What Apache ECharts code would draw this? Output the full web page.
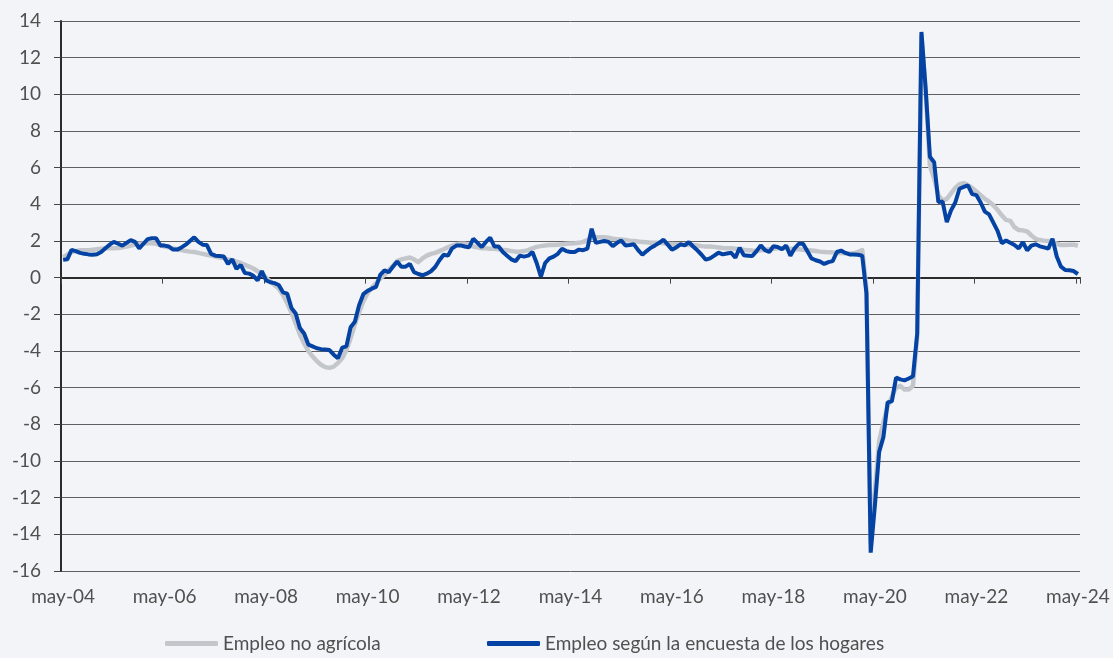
<!DOCTYPE html>
<html>
<head>
<meta charset="utf-8">
<script src="https://cdn.jsdelivr.net/npm/echarts@6/dist/echarts.min.js"></script>
<style>
  html, body { margin: 0; padding: 0; background: #f3f4f7; }
  #chart { width: 1113px; height: 658px; }
</style>
</head>
<body>
<div id="chart"></div>
<script>
// Months from may-04 to may-24 (Spanish abbreviations, one per category)
const monthNames = ['ene', 'feb', 'mar', 'abr', 'may', 'jun', 'jul', 'ago', 'sep', 'oct', 'nov', 'dic'];
const months = [];
for (let k = 0; k <= 240; k++) {
	const m = (4 + k) % 12;
	const yr = 4 + Math.floor((4 + k) / 12);
	months.push(monthNames[m] + '-' + String(yr).padStart(2, '0'));
}

// Tick labels shown on the x axis (every 24 months)
const xTickLabels = ['may-04', 'may-06', 'may-08', 'may-10', 'may-12', 'may-14', 'may-16', 'may-18', 'may-20', 'may-22', 'may-24'];

// Empleo no agrícola (% a/a), 12 values per row from may-04
const nonFarm = [
	1.1, 1.25, 1.4, 1.45, 1.5, 1.5, 1.5, 1.52, 1.55, 1.58, 1.6, 1.6,
	1.6, 1.62, 1.65, 1.7, 1.75, 1.8, 1.85, 1.87, 1.88, 1.88, 1.85, 1.78,
	1.7, 1.65, 1.6, 1.55, 1.5, 1.45, 1.42, 1.4, 1.35, 1.3, 1.25, 1.2,
	1.15, 1.1, 1.05, 1.0, 0.95, 0.88, 0.8, 0.7, 0.6, 0.5, 0.35, 0.2,
	0.0, -0.2, -0.4, -0.6, -0.95, -1.4, -1.9, -2.5, -3.1, -3.6, -4.0, -4.3,
	-4.55, -4.75, -4.88, -4.92, -4.85, -4.65, -4.4, -3.95, -3.3, -2.55, -1.9, -1.3,
	-0.85, -0.55, -0.3, -0.05, 0.15, 0.4, 0.65, 0.9, 1.0, 1.05, 1.1, 1.0,
	0.85, 1.05, 1.2, 1.3, 1.35, 1.45, 1.55, 1.65, 1.75, 1.82, 1.85, 1.85,
	1.8, 1.7, 1.65, 1.6, 1.6, 1.58, 1.58, 1.55, 1.52, 1.5, 1.45, 1.42,
	1.42, 1.45, 1.5, 1.6, 1.68, 1.72, 1.75, 1.78, 1.78, 1.8, 1.82, 1.85,
	1.87, 1.88, 1.9, 1.95, 2.05, 2.15, 2.2, 2.2, 2.2, 2.18, 2.12, 2.1,
	2.08, 2.05, 2.02, 2.0, 1.97, 1.95, 1.93, 1.9, 1.9, 1.9, 1.88, 1.85,
	1.83, 1.82, 1.8, 1.8, 1.78, 1.78, 1.75, 1.72, 1.7, 1.7, 1.68, 1.65,
	1.62, 1.6, 1.6, 1.58, 1.55, 1.52, 1.5, 1.48, 1.47, 1.5, 1.52, 1.55,
	1.58, 1.6, 1.6, 1.6, 1.58, 1.55, 1.55, 1.52, 1.5, 1.48, 1.45, 1.42,
	1.4, 1.38, 1.38, 1.35, 1.35, 1.33, 1.32, 1.33, 1.4, 1.5, -0.6, -14.5,
	-11.6, -8.9, -7.9, -7.0, -6.5, -6.0, -5.9, -6.1, -6.1, -5.9, -3.2, 13.2,
	10.2, 6.1, 5.4, 4.5, 4.2, 4.3, 4.6, 4.9, 5.1, 5.16, 5.05, 4.9,
	4.7, 4.5, 4.3, 4.15, 3.95, 3.7, 3.4, 3.15, 3.1, 2.75, 2.6, 2.58,
	2.52, 2.3, 2.12, 2.05, 2.02, 2.0, 1.95, 1.85, 1.78, 1.78, 1.8, 1.8,
	1.74
];

// Empleo según la encuesta de los hogares (% a/a), 12 values per row from may-04
const household = [
	0.97, 1.0, 1.52, 1.45, 1.35, 1.3, 1.27, 1.25, 1.28, 1.4, 1.6, 1.8,
	1.95, 1.85, 1.75, 1.9, 2.05, 1.95, 1.6, 1.85, 2.1, 2.15, 2.15, 1.76,
	1.75, 1.7, 1.53, 1.53, 1.65, 1.8, 2.0, 2.2, 1.95, 1.8, 1.78, 1.3,
	1.2, 1.18, 1.15, 0.75, 1.0, 0.48, 0.7, 0.25, 0.22, 0.1, -0.15, 0.36,
	-0.15, -0.25, -0.3, -0.4, -0.8, -0.87, -1.65, -1.95, -2.75, -3.05, -3.65, -3.75,
	-3.85, -3.9, -3.92, -3.95, -4.2, -4.4, -3.82, -3.75, -2.7, -2.4, -1.5, -0.9,
	-0.72, -0.6, -0.5, 0.15, 0.4, 0.3, 0.6, 0.88, 0.6, 0.6, 0.75, 0.3,
	0.2, 0.13, 0.22, 0.35, 0.58, 0.95, 1.25, 1.2, 1.6, 1.75, 1.76, 1.7,
	1.65, 2.12, 1.9, 1.67, 1.95, 2.18, 1.7, 1.7, 1.4, 1.2, 1.0, 0.9,
	1.2, 1.15, 1.2, 1.4, 0.8, 0.05, 0.8, 1.05, 1.15, 1.3, 1.58, 1.45,
	1.4, 1.4, 1.53, 1.5, 1.58, 2.67, 1.9, 1.95, 2.0, 1.95, 1.72, 1.9,
	2.03, 1.75, 1.78, 1.82, 1.5, 1.25, 1.45, 1.63, 1.76, 1.9, 2.07, 1.8,
	1.53, 1.65, 1.82, 1.76, 1.94, 1.7, 1.49, 1.25, 0.98, 1.05, 1.2, 1.36,
	1.27, 1.32, 1.36, 1.09, 1.63, 1.22, 1.2, 1.18, 1.45, 1.76, 1.5, 1.4,
	1.71, 1.67, 1.55, 1.75, 1.2, 1.6, 1.85, 1.85, 1.45, 1.05, 0.95, 0.88,
	0.75, 0.85, 0.9, 1.4, 1.48, 1.35, 1.27, 1.27, 1.25, 1.2, -0.87, -15.0,
	-12.4, -9.5, -8.7, -6.8, -6.75, -5.45, -5.55, -5.6, -5.5, -5.38, -3.05, 13.4,
	10.3, 6.6, 6.3, 4.12, 4.15, 3.03, 3.67, 4.1, 4.85, 4.95, 5.04, 4.56,
	4.5, 4.1, 3.6, 3.45, 3.0, 2.55, 1.88, 2.03, 1.9, 1.78, 1.6, 1.94,
	1.49, 1.75, 1.82, 1.71, 1.65, 1.58, 2.12, 1.15, 0.6, 0.42, 0.4, 0.36,
	0.2
];

const seriesNames = ['Empleo no agrícola', 'Empleo según la encuesta de los hogares'];

const chart = echarts.init(document.getElementById('chart'));
const font = 'Lato, "Open Sans", sans-serif';
const textColor = '#505050';

const option = {
	backgroundColor: '#f3f4f7',
	animation: false,
	textStyle: { fontFamily: font },
	grid: { left: 61, right: 33, top: 21, bottom: 87 },
	legend: [
		{
			data: [seriesNames[0]],
			left: 165, top: 634, padding: 0,
			icon: 'roundRect', itemWidth: 53, itemHeight: 5,
			textStyle: { color: textColor, fontSize: 19, fontFamily: font }
		},
		{
			data: [seriesNames[1]],
			left: 487, top: 634, padding: 0,
			icon: 'roundRect', itemWidth: 53, itemHeight: 5,
			textStyle: { color: textColor, fontSize: 19, fontFamily: font }
		}
	],
	xAxis: [
		{
			// labels along the bottom
			type: 'category',
			data: months,
			position: 'bottom',
			axisLine: { show: false, onZero: false },
			axisTick: { show: false },
			axisLabel: {
				interval: 23, margin: 16, color: textColor, fontSize: 19, fontFamily: font,
				formatter: function (v, idx) { return xTickLabels[idx / 24] || v; }
			},
			splitLine: { show: false }
		},
		{
			// line and ticks sitting on zero
			type: 'category',
			data: months,
			position: 'bottom',
			axisLine: { show: true, onZero: true, lineStyle: { color: '#2b2b2b', width: 2 } },
			axisTick: { show: true, interval: 23, length: 6, lineStyle: { color: '#444', width: 1 } },
			axisLabel: { show: false },
			splitLine: { show: false }
		}
	],
	yAxis: {
		type: 'value',
		min: -16, max: 14, interval: 2,
		axisLine: { show: true, lineStyle: { color: '#2b2b2b', width: 2 } },
		axisTick: { show: true, length: 7, lineStyle: { color: '#444' } },
		axisLabel: { margin: 20, color: textColor, fontSize: 19, fontFamily: font },
		splitLine: { show: true, lineStyle: { color: '#5f5f5f', width: 1 } }
	},
	series: [
		{
			name: seriesNames[0],
			type: 'line',
			data: nonFarm,
			symbol: 'none',
			z: 2,
			itemStyle: { color: '#c3c7cc' },
			lineStyle: { color: '#c3c7cc', width: 4.5, join: 'round' }
		},
		{
			name: seriesNames[1],
			type: 'line',
			data: household,
			symbol: 'none',
			z: 3,
			itemStyle: { color: '#0443a3' },
			lineStyle: { color: '#0443a3', width: 4 }
		}
	]
};

chart.setOption(option);
</script>
</body>
</html>
